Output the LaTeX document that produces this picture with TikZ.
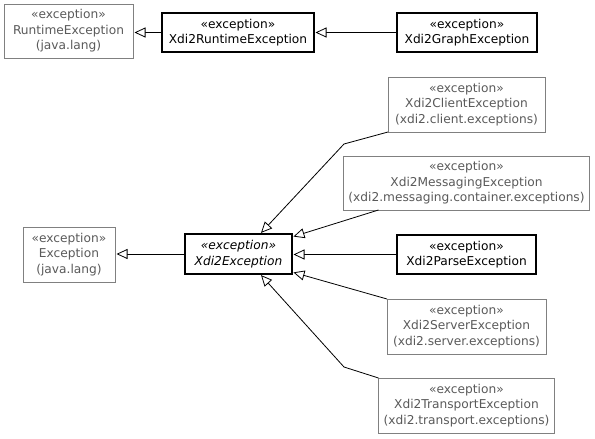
\documentclass[tikz,border=0pt]{standalone}
\usepackage{fontspec}
\setmainfont{DejaVu Sans}
\usetikzlibrary{arrows.meta,positioning}
\definecolor{frame}{RGB}{128,128,128}
\definecolor{faded}{RGB}{90,90,90}
\definecolor{ink}{RGB}{0,0,0}
\tikzset{
  cls/.style={draw=#1,thick,fill=white,inner sep=0pt,outer sep=0pt,align=center,
    font=\fontsize{12.2}{15.4}\selectfont,text=faded},
  cls/.default=frame,
  own/.style={cls=ink,line width=1.2pt,text=ink},
  gen/.style={-{Triangle[open,length=11pt,width=10pt,fill=white]},draw=ink,line width=0.8pt,shorten >=1.5pt},
}
\begin{document}
\begin{tikzpicture}[x=1pt,y=-1pt]
  \fill[white] (0,0) rectangle (595,439);
  \useasboundingbox (0,0) rectangle (595,439);
  % runtime branch
  \node[cls,minimum width=129pt,minimum height=54pt] (rte) at (68.5,31)
    {«exception»\\RuntimeException\\(java.lang)};
  \node[own,minimum width=152pt,minimum height=39pt] (xrte) at (238,32.5)
    {«exception»\\Xdi2RuntimeException};
  \node[own,minimum width=140pt,minimum height=39pt] (xge) at (467,32.5)
    {«exception»\\Xdi2GraphException};
  % main branch
  \node[cls,minimum width=92pt,minimum height=55pt] (exc) at (69,254.5)
    {«exception»\\Exception\\(java.lang)};
  \node[own,minimum width=107pt,minimum height=40pt,font=\fontsize{12.2}{15.4}\selectfont\itshape] (xe) at (238.5,254)
    {«exception»\\Xdi2Exception};
  \foreach \n/\s/\y/\w/\h/\t in {
    cli/cls/104.5/157/55/{«exception»\\Xdi2ClientException\\(xdi2.client.exceptions)},
    msg/cls/183/246/54/{«exception»\\Xdi2MessagingException\\(xdi2.messaging.container.exceptions)},
    prs/own/254.5/139/39/{«exception»\\Xdi2ParseException},
    srv/cls/326.5/159/55/{«exception»\\Xdi2ServerException\\(xdi2.server.exceptions)},
    trn/cls/405.5/176/55/{«exception»\\Xdi2TransportException\\(xdi2.transport.exceptions)}}
  {
    \node[\s,minimum width=\w pt,minimum height=\h pt] (\n) at (466.5,\y) {\t};
  }
  \coordinate (cbend) at (344,144);
  \coordinate (tbend) at (344,367);
  \draw[gen] (xrte.west) -- (xrte.west -| rte.east);
  \draw[gen] (xge.west) -- (xrte.east);
  \draw[gen] (xe.west) -- (xe.west -| exc.east);
  \draw[gen] (cli.south west) -- (cbend) -- ([xshift=21.5pt]xe.north);
  \draw[gen] ([xshift=35pt]msg.south west) -- ([yshift=-3pt]xe.north east);
  \draw[gen] (prs.west) -- (prs.west -| xe.east);
  \draw[gen] (srv.north west) -- ([yshift=2pt]xe.south east);
  \draw[gen] (trn.north west) -- (tbend) -- ([xshift=21.5pt]xe.south);
\end{tikzpicture}
\end{document}
